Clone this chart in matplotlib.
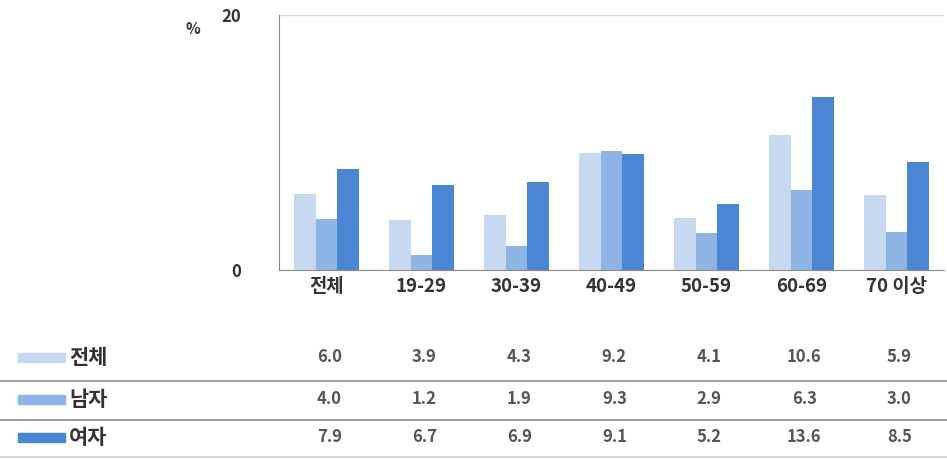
import numpy as np
import matplotlib
matplotlib.use("Agg")
import matplotlib.pyplot as plt
from matplotlib.patches import Rectangle
from matplotlib.lines import Line2D
import matplotlib.transforms as mtransforms

plt.rcParams['font.family'] = ['Noto Sans CJK KR', 'DejaVu Sans']

categories = ['전체', '19-29', '30-39', '40-49', '50-59', '60-69', '70 이상']
series_names = ['전체', '남자', '여자']
total = [6.0, 3.9, 4.3, 9.2, 4.1, 10.6, 5.9]
male = [4.0, 1.2, 1.9, 9.3, 2.9, 6.3, 3.0]
female = [7.9, 6.7, 6.9, 9.1, 5.2, 13.6, 8.5]
y_ticks = [0, 20]

colors = ['#c6d9f1', '#8db4e2', '#4a86d4']
text_col = '#333333'
values = [total, male, female]

W, H = 947, 459
fig = plt.figure(figsize=(W / 100, H / 100), dpi=100)
ax = fig.add_axes([279 / W, 1 - 270 / H, 665 / W, 255 / H])

x = np.arange(len(categories))
bw = 0.225
for i, (vals, col) in enumerate(zip(values, colors)):
    ax.bar(x + (i - 1) * bw, vals, width=bw, color=col, edgecolor='none', zorder=2)

ax.set_xlim(-0.5, len(categories) - 0.5)
ax.set_ylim(0, 20)
ax.set_yticks(y_ticks)
ax.set_yticklabels([str(t) for t in y_ticks], fontsize=12, fontweight='bold', color=text_col)
ax.set_xticks(x)
ax.set_xticklabels(categories, fontsize=13.5, fontweight='bold', color=text_col)
ax.tick_params(axis='y', length=0, pad=27)
ax.tick_params(axis='x', length=0, pad=5)
ax.grid(axis='y', color='#d9d9d9', linewidth=1, zorder=0)
ax.set_axisbelow(True)
for s in ['top', 'right']:
    ax.spines[s].set_visible(False)
ax.spines['left'].set_color('#8c8c8c')
ax.spines['bottom'].set_color('#8c8c8c')

fig.text(193 / W, 1 - 29 / H, '%', fontsize=11, fontweight='bold', color=text_col,
         ha='center', va='center')

# data table below the chart
row_y = [357, 399, 437]
trans = mtransforms.blended_transform_factory(ax.transData, fig.transFigure)
for name, vals, col, ry in zip(series_names, values, colors, row_y):
    yf = 1 - ry / H
    fig.add_artist(Rectangle((18 / W, yf - 4.5 / H), 47 / W, 9 / H,
                             transform=fig.transFigure, color=col))
    fig.text(69 / W, yf, name, fontsize=15, fontweight='bold', color=text_col,
             ha='left', va='center')
    for xi, v in zip(x, vals):
        ax.text(xi + 0.03, yf, f'{v:.1f}', transform=trans, fontsize=12,
                fontweight='bold', color='#555555', ha='center', va='center')

for ly, lc in [(381, '#8c8c8c'), (420, '#8c8c8c'), (457, '#d0d0d0')]:
    fig.add_artist(Line2D([0, 1], [1 - ly / H, 1 - ly / H], transform=fig.transFigure,
                          color=lc, linewidth=1.2))

fig.savefig('out.png', dpi=100)
